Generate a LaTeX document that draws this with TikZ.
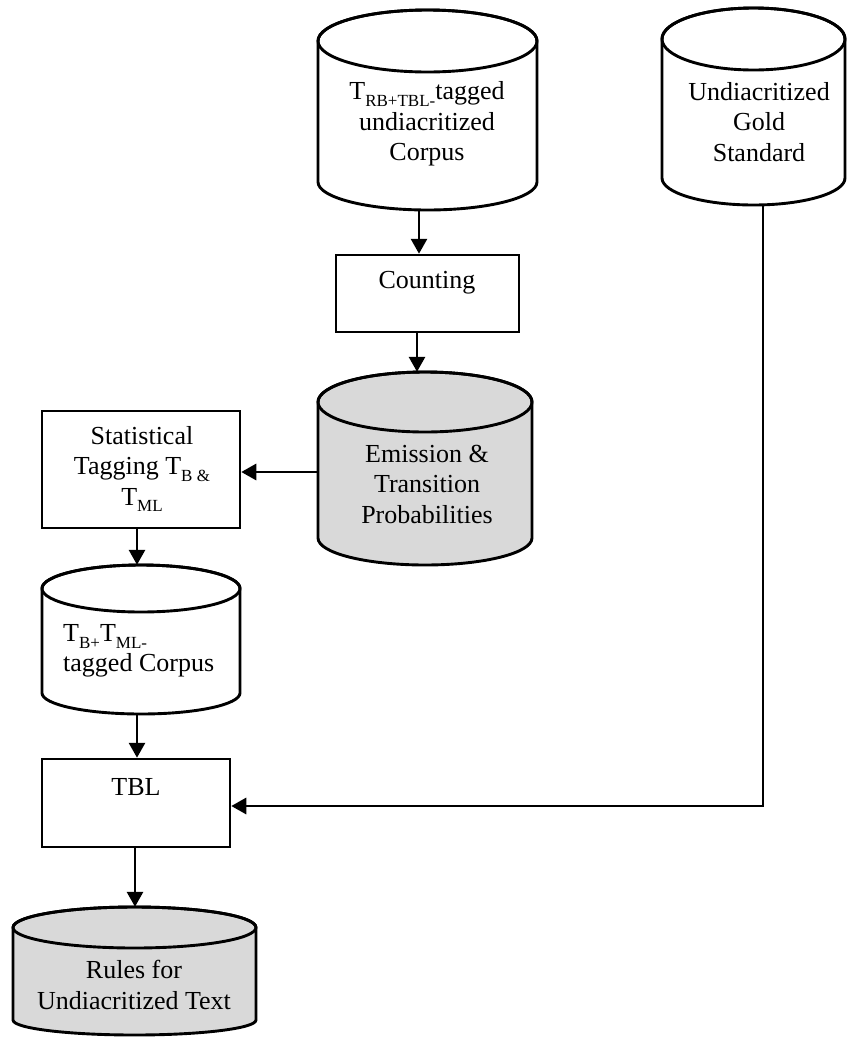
\documentclass[tikz,border=0pt]{standalone}
\usepackage{fontspec}
\setmainfont{Liberation Serif}
\usetikzlibrary{arrows.meta}

\definecolor{dbgray}{HTML}{D9D9D9}

% small lowered index used in the tag names
\newcommand{\lowsub}[1]{\raisebox{-0.55ex}{\fontsize{17}{17}\selectfont #1}}

% database drum: #1 name, #2 left x, #3 right x, #4 top y, #5 top radius,
% #6 y where the sides end, #7 bottom radius, #8 fill colour (y grows downward)
\newcommand{\drum}[8]{%
  \pgfmathsetmacro{\dcx}{(#2+#3)/2}%
  \pgfmathsetmacro{\drx}{(#3-#2)/2}%
  \pgfmathsetmacro{\dw}{#3-#2}%
  \pgfmathsetmacro{\dtop}{-(#4)-(#5)}%
  \pgfmathsetmacro{\dbot}{-(#6)}%
  \pgfmathsetmacro{\dh}{(#6)+(#7)-(#4)}%
  \pgfmathsetmacro{\dcy}{-(#4)-\dh/2}%
  \filldraw[drumline, fill=#8] (#2,\dtop) -- (#2,\dbot)
    arc[start angle=180, end angle=360, x radius=\drx, y radius=#7]
    -- (#3,\dtop)
    arc[start angle=0, end angle=180, x radius=\drx, y radius=#5] -- cycle;
  \draw[drumline] (\dcx,\dtop) ellipse[x radius=\drx, y radius=#5];
  \node[inner sep=0pt, minimum width=\dw pt, minimum height=\dh pt] (#1) at (\dcx,\dcy) {};
}

\tikzset{
  drumline/.style={line width=2.9pt, line join=round},
  procbox/.style={draw, line width=2.5pt, inner sep=0pt, fill=white},
  label/.style={align=center, inner sep=0pt, font=\fontsize{26}{30.5}\selectfont},
  flow/.style={line width=2.9pt, -{Triangle[length=15pt, width=16pt]}},
}

\begin{document}
\begin{tikzpicture}[x=1pt, y=1pt]
  \fill[white] (0,0) rectangle (847,-1037);
  \useasboundingbox (0,0) rectangle (847,-1037);

  % data stores
  \drum{corpus}{318}{537}{10}{31}{182}{28}{white}
  \drum{gold}{662}{845}{8}{31}{178}{27}{white}
  \drum{probs}{318}{532}{372}{30}{538}{27}{dbgray}
  \drum{tagged}{42}{240}{565}{23.5}{693}{21}{white}
  \drum{rules}{13}{256}{907}{20.5}{1020}{15}{dbgray}

  % processing steps
  \node[procbox, minimum width=183pt, minimum height=77pt] (count) at (427.5,-293.5) {};
  \node[procbox, minimum width=198pt, minimum height=117pt] (stat) at (141,-469.5) {};
  \node[procbox, minimum width=188pt, minimum height=88pt] (tbl) at (136,-803) {};

  % texts
  \node[label] (tcorpus) at (427,-124) {T\lowsub{RB+TBL-}tagged\\undiacritized\\Corpus};
  \node[label] (tgold) at (759,-122) {Undiacritized\\Gold\\Standard};
  \node[label] (tcount) at (427,-283) {Counting};
  \node[label] (tprobs) at (427,-484) {Emission \&\\Transition\\Probabilities};
  \node[label] (tstat) at (142,-469) {Statistical\\Tagging T\lowsub{B \&}\\T\lowsub{ML}};
  \node[label, align=left, anchor=west] (ttagged) at (63,-651) {T\lowsub{B+}T\lowsub{ML-}\\tagged Corpus};
  \node[label] (ttbl) at (136,-787) {TBL};
  \node[label] (trules) at (134,-985) {Rules for\\Undiacritized Text};

  % connectors
  \draw[flow] ([xshift=-8.5pt]corpus.south) -- ([xshift=-8.5pt]count.north);
  \draw[flow] ([xshift=-10.5pt]count.south) -- ([xshift=-8pt]probs.north);
  \draw[flow] ([yshift=-3.5pt]probs.west) -- ([yshift=-2.5pt]stat.east);
  \draw[flow] ([xshift=-4pt]stat.south) -- ([xshift=-4pt]tagged.north);
  \draw[flow] ([xshift=-4pt]tagged.south) -- ([xshift=1pt]tbl.north);
  \draw[flow] ([xshift=-1pt]tbl.south) -- ([xshift=0.5pt]rules.north);
  \draw[flow, line join=miter] ([xshift=9.5pt]gold.south) |- ([yshift=-3pt]tbl.east);
\end{tikzpicture}
\end{document}
